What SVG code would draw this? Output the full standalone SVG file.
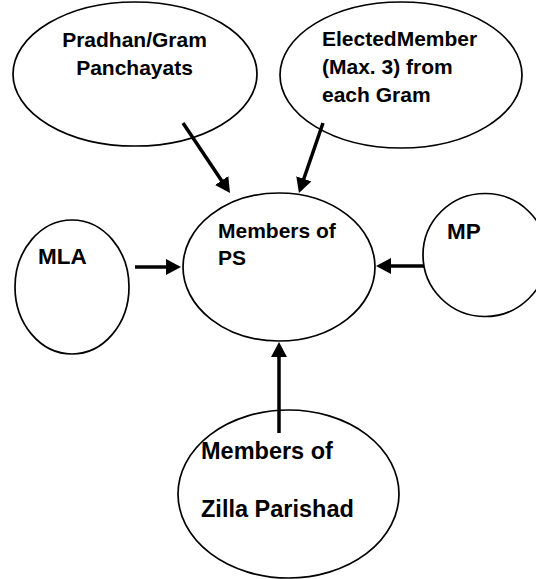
<svg xmlns="http://www.w3.org/2000/svg" width="536" height="579" viewBox="0 0 536 579">
  <style>
    .node ellipse { fill: #ffffff; stroke: #000000; stroke-width: 1.7; }
    .label { font-family: "Liberation Sans", Arial, sans-serif; font-weight: bold; fill: #000000; }
    .s21 { font-size: 21px; }
    .s22 { font-size: 22.5px; }
    .s23 { font-size: 23.5px; }
    .edge { stroke: #000000; stroke-width: 3.5; fill: none; marker-end: url(#head); }
  </style>
  <defs>
    <marker id="head" markerUnits="userSpaceOnUse" markerWidth="15" markerHeight="16" viewBox="0 0 15 16" refX="1" refY="8" orient="auto">
      <path d="M0,0 L15,8 L0,16 z" fill="#000000"/>
    </marker>
  </defs>

  <rect width="536" height="579" fill="#ffffff"/>

  <!-- source bodies -->
  <g id="pradhan" class="node">
    <ellipse cx="135" cy="74" rx="122" ry="72"/>
    <text class="label s21" x="134.5" y="47" text-anchor="middle">Pradhan/Gram</text>
    <text class="label s21" x="134.5" y="74.5" text-anchor="middle">Panchayats</text>
  </g>

  <g id="elected-member" class="node">
    <ellipse cx="401" cy="75" rx="121" ry="73"/>
    <text class="label s21" x="322" y="46">ElectedMember</text>
    <text class="label s21" x="322" y="74">(Max. 3) from</text>
    <text class="label s21" x="322" y="101.5">each Gram</text>
  </g>

  <g id="mla" class="node">
    <ellipse cx="72" cy="287" rx="57" ry="67"/>
    <text class="label s22" x="38" y="263.5">MLA</text>
  </g>

  <g id="mp" class="node">
    <ellipse cx="485" cy="255" rx="62" ry="61.5"/>
    <text class="label s22" x="447" y="238.5">MP</text>
  </g>

  <g id="zilla-parishad" class="node">
    <ellipse cx="288.5" cy="494" rx="110.5" ry="84"/>
    <text class="label s23" x="201" y="459">Members of</text>
    <text class="label s23" x="201" y="516.5">Zilla Parishad</text>
  </g>

  <!-- target body -->
  <g id="members-ps" class="node">
    <ellipse cx="279" cy="267" rx="96" ry="74"/>
    <text class="label s21" x="218" y="238">Members of</text>
    <text class="label s21" x="218" y="265">PS</text>
  </g>

  <!-- connectors: each line stops at the arrowhead base -->
  <g id="connectors">
    <line class="edge" x1="183" y1="123" x2="222.2" y2="181.4"/>
    <line class="edge" x1="323" y1="123" x2="303.5" y2="179.8"/>
    <line class="edge" x1="135" y1="267" x2="167" y2="267"/>
    <line class="edge" x1="424" y1="266" x2="390" y2="266"/>
    <line class="edge" x1="279" y1="433" x2="279" y2="356"/>
  </g>
</svg>
